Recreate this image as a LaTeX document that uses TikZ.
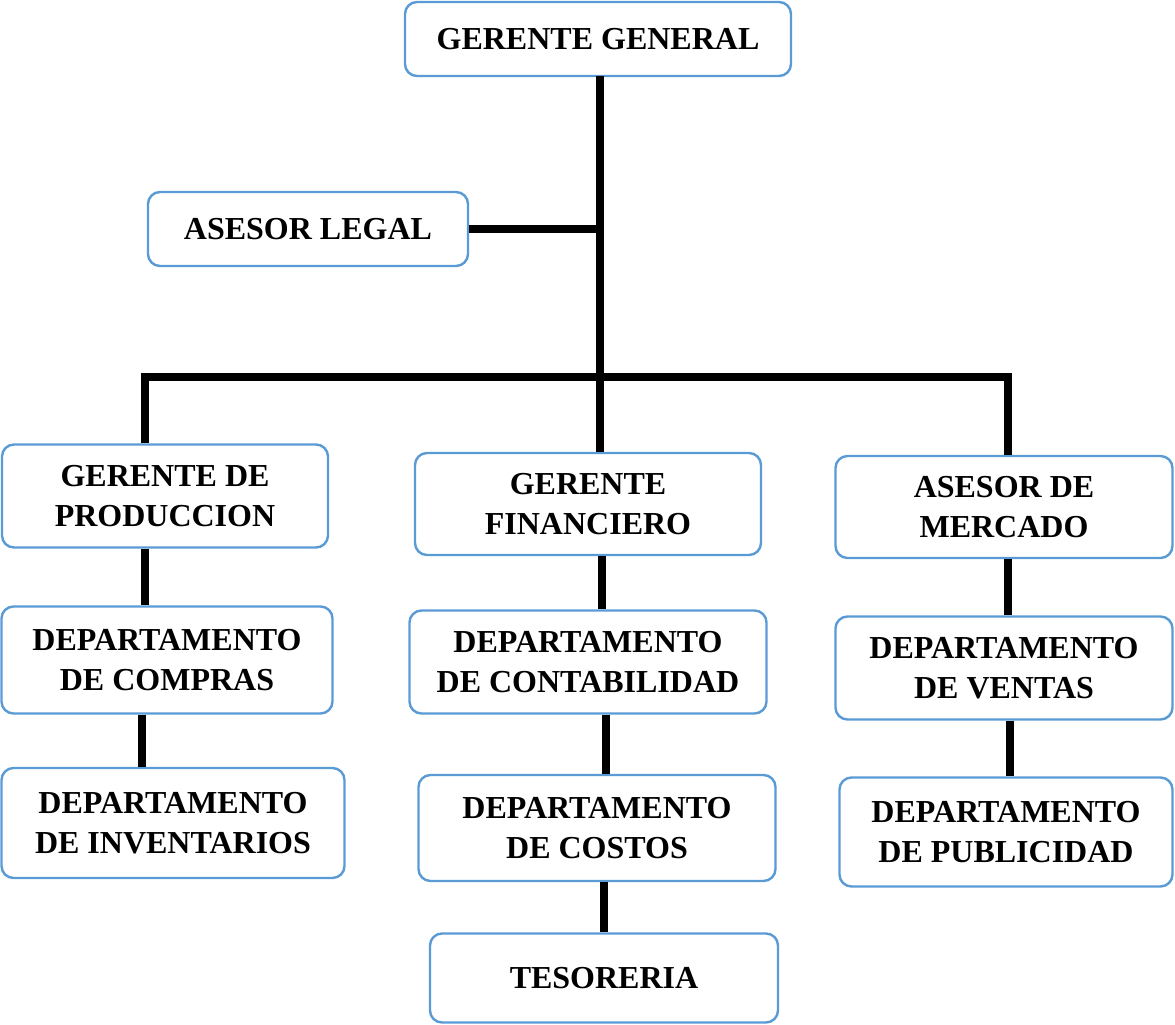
\documentclass[tikz,border=0pt]{standalone}
\usepackage{fontspec}
\setmainfont{Liberation Serif}
\usepackage{tikz}
\usepackage{xcolor}
\usetikzlibrary{positioning}
\definecolor{boxblue}{HTML}{5B9BD5}

\begin{document}
\begin{tikzpicture}
[
x=0.75pt, y=-0.75pt,
box-a/.style={draw=boxblue, line width=1.8pt, rounded corners=9pt, fill=white,
  align=center, inner sep=0pt, font=\fontsize{24}{30}\selectfont\bfseries},
link-a/.style={black, line width=5.8pt}
]
\useasboundingbox (0,0) rectangle (1175,1025);
\node (gg)      [box-a, minimum width=386*0.75pt, minimum height=74*0.75pt]  at (598,39)  {GERENTE GENERAL};
\node (legal)   [box-a, minimum width=320*0.75pt, minimum height=74*0.75pt]  at (308,229) {ASESOR LEGAL};
\node (prod)    [box-a, minimum width=326*0.75pt, minimum height=103*0.75pt] at (165,496) {GERENTE DE\\PRODUCCION};
\node (fin)     [box-a, minimum width=346*0.75pt, minimum height=102*0.75pt] at (588,504) {GERENTE\\FINANCIERO};
\node (merc)    [box-a, minimum width=337*0.75pt, minimum height=102*0.75pt] at (1004,507) {ASESOR DE\\MERCADO};
\node (compras) [box-a, minimum width=331*0.75pt, minimum height=107*0.75pt] at (167,660) {DEPARTAMENTO\\DE COMPRAS};
\node (inv)     [box-a, minimum width=343*0.75pt, minimum height=110*0.75pt] at (173,823) {DEPARTAMENTO\\DE INVENTARIOS};
\node (conta)   [box-a, minimum width=357*0.75pt, minimum height=103*0.75pt] at (588,662) {DEPARTAMENTO\\DE CONTABILIDAD};
\node (costos)  [box-a, minimum width=357*0.75pt, minimum height=106*0.75pt] at (597,828) {DEPARTAMENTO\\DE COSTOS};
\node (teso)    [box-a, minimum width=348*0.75pt, minimum height=89*0.75pt]  at (604,978) {TESORERIA};
\node (ventas)  [box-a, minimum width=337*0.75pt, minimum height=103*0.75pt] at (1004,668) {DEPARTAMENTO\\DE VENTAS};
\node (publi)   [box-a, minimum width=333*0.75pt, minimum height=109*0.75pt] at (1006,832) {DEPARTAMENTO\\DE PUBLICIDAD};
\coordinate (trunk) at (600,76);
\coordinate (bar)   at (600,377);
\coordinate (left)  at (145,377);
\coordinate (right) at (1008,377);
% trunk and legal
\draw [link-a] (trunk) -- (trunk |- fin.north);
\draw [link-a] (legal.east) -- (legal.east -| trunk);
% horizontal bar
\draw [link-a] (left |- prod.north) -- (left) -- (right) -- (right |- merc.north);
% columns
\draw [link-a] (left |- prod.south) -- (left |- compras.north);
\draw [link-a] ([xshift=-2.2pt]left |- compras.south) -- ([xshift=-2.2pt]left |- inv.north);
\draw [link-a] ([xshift=1.5pt]trunk |- fin.south) -- ([xshift=1.5pt]trunk |- conta.north);
\draw [link-a] ([xshift=4.5pt]trunk |- conta.south) -- ([xshift=4.5pt]trunk |- costos.north);
\draw [link-a] ([xshift=3pt]trunk |- costos.south) -- ([xshift=3pt]trunk |- teso.north);
\draw [link-a] (right |- merc.south) -- (right |- ventas.north);
\draw [link-a] ([xshift=1.5pt]right |- ventas.south) -- ([xshift=1.5pt]right |- publi.north);
\end{tikzpicture}
\end{document}
